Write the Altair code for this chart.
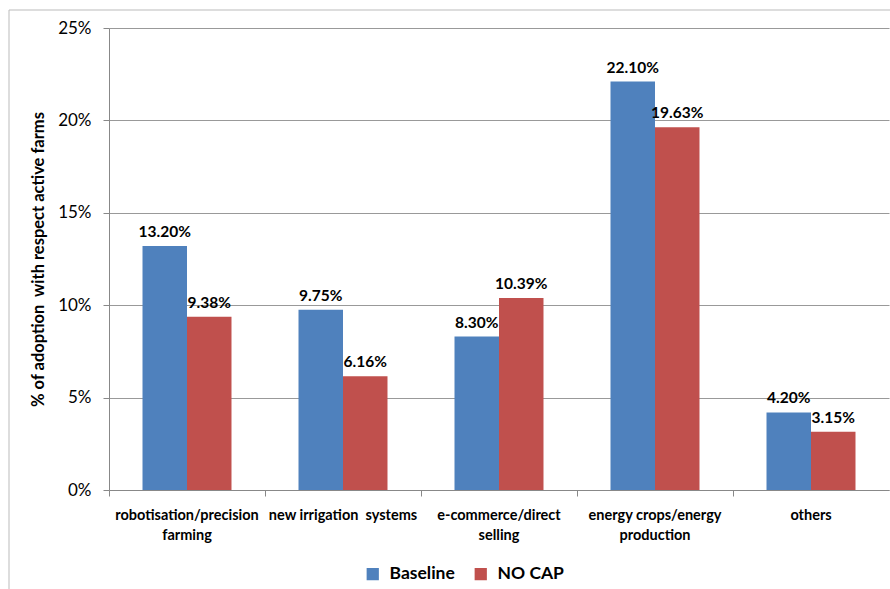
import altair as alt
import pandas as pd

categories = ["robotisation/precision farming", "new irrigation\u00a0 systems",
              "e-commerce/direct selling", "energy crops/energy production", "others"]
baseline = [13.20, 9.75, 8.30, 22.10, 4.20]
nocap = [9.38, 6.16, 10.39, 19.63, 3.15]
series = ["Baseline", "NO CAP"]
colors = ["#4F81BD", "#C0504D"]

rows = []
for c, b, n in zip(categories, baseline, nocap):
    rows.append({"cat": c, "series": "Baseline", "v": b / 100, "lbl": f"{b:.2f}%"})
    rows.append({"cat": c, "series": "NO CAP", "v": n / 100, "lbl": f"{n:.2f}%"})
df = pd.DataFrame(rows)

FONT = "Lato"

label_expr = ("datum.label == 'robotisation/precision farming' ? ['robotisation/precision','farming'] : "
              "datum.label == 'e-commerce/direct selling' ? ['e-commerce/direct','selling'] : "
              "datum.label == 'energy crops/energy production' ? ['energy crops/energy','production'] : datum.label")

x = alt.X("cat:N", sort=categories, title=None,
          scale=alt.Scale(paddingInner=0, paddingOuter=0),
          axis=alt.Axis(labelExpr=label_expr,
                        labelAngle=0, labelFont=FONT, labelFontSize=14.5, labelFontWeight="bold",
                        labelColor="#000000", labelPadding=12, labelLineHeight=20,
                        domainColor="#888888", tickColor="#888888", tickSize=6,
                        bandPosition=0, labelBound=False, labelOverlap=False))
xoff = alt.XOffset("series:N", sort=series, scale=alt.Scale(paddingInner=0, paddingOuter=0.753))
y = alt.Y("v:Q", title="% of adoption\u00a0 with respect active farms",
          scale=alt.Scale(domain=[0, 0.25], nice=False),
          axis=alt.Axis(format=".0%", values=[0, 0.05, 0.10, 0.15, 0.20, 0.25],
                        labelFont=FONT, labelFontSize=17, labelColor="#000000", labelPadding=12,
                        titleFont=FONT, titleFontSize=16.5, titleFontWeight="bold",
                        titleColor="#000000", titlePadding=11,
                        gridColor="#999999", domainColor="#888888", tickColor="#888888",
                        tickSize=6))

base = alt.Chart(df)
bars = base.mark_bar().encode(
    x=x, xOffset=xoff, y=y,
    color=alt.Color("series:N", sort=series, scale=alt.Scale(domain=series, range=colors),
                    legend=alt.Legend(title=None, orient="none", direction="horizontal",
                                      legendX=255, legendY=537, symbolType="square",
                                      symbolSize=150, symbolStrokeWidth=0,
                                      labelFont=FONT, labelFontSize=17.5, labelFontWeight="bold",
                                      labelColor="#000000", columnPadding=17, labelOffset=8)))
text = base.mark_text(dy=-14, font=FONT, fontSize=15.5, fontWeight="bold", color="#000000").encode(
    x=alt.X("cat:N", sort=categories), xOffset=alt.XOffset("series:N", sort=series), y="v:Q", text="lbl:N")

frame_left = alt.Chart(pd.DataFrame({"a": [0]})).mark_rule(color="#bbbbbb").encode(
    x=alt.value(-100), y=alt.value(-18), y2=alt.value(600))
frame_top = alt.Chart(pd.DataFrame({"a": [0]})).mark_rule(color="#bbbbbb").encode(
    x=alt.value(-100), x2=alt.value(800), y=alt.value(-18))

chart = alt.layer(bars, text, frame_left, frame_top).properties(
    width=780, height=462,
    autosize=alt.AutoSizeParams(type="none"),
    padding={"left": 109, "top": 28, "right": 1, "bottom": 99},
).configure_view(stroke=None).configure_axisX(grid=False)

chart.save("out.html", embed_options={"renderer": "svg", "actions": False})
